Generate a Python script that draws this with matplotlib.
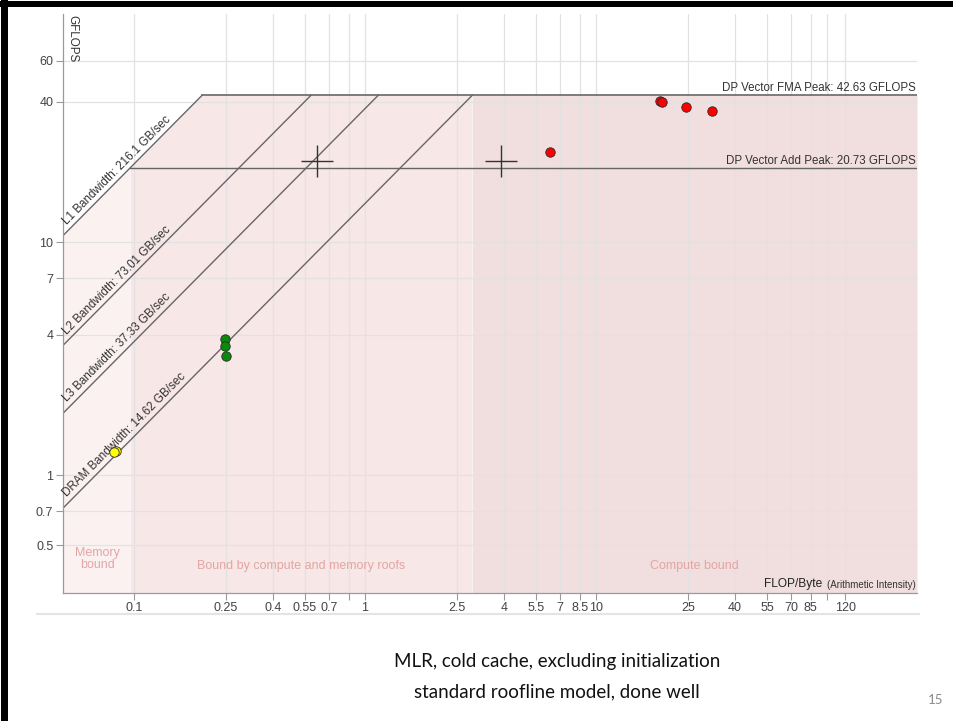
import numpy as np
import matplotlib
matplotlib.use("Agg")
import matplotlib.pyplot as plt
from matplotlib.lines import Line2D
from matplotlib.patches import Rectangle

# ---------------- data ----------------
bw_names = ["L1", "L2", "L3", "DRAM"]
bw_values = [216.1, 73.01, 37.33, 14.62]          # GB/sec
fma_peak = 42.63
add_peak = 20.73

red_x = [18.9, 19.3, 24.5, 31.8, 6.3]
red_y = [40.3, 39.9, 37.9, 36.5, 24.3]
green_x = [0.248, 0.247, 0.250]
green_y = [3.83, 3.58, 3.24]
yellow_x = [0.0835, 0.0822]
yellow_y = [1.27, 1.25]
cross_x = [0.62, 3.88]
cross_y = [22.3, 22.3]

xtick_vals = [0.1, 0.25, 0.4, 0.55, 0.7, 1, 2.5, 4, 5.5, 7, 8.5, 10,
              25, 40, 55, 70, 85, 120]
xtick_labels = ["0.1", "0.25", "0.4", "0.55", "0.7", "1", "2.5", "4", "5.5",
                "7", "8.5", "10", "25", "40", "55", "70", "85", "120"]
xtick_extra = [0.85, 100]
ytick_vals = [0.5, 0.7, 1, 4, 7, 10, 40, 60]
ytick_labels = ["0.5", "0.7", "1", "4", "7", "10", "40", "60"]

XMIN, XMAX = 0.0493, 245.6
YMIN, YMAX = 0.3116, 95.2

# ---------------- figure ----------------
W, H = 954, 721
fig = plt.figure(figsize=(W / 100, H / 100), dpi=100)
fig.patch.set_facecolor("white")
plt.rcParams["font.family"] = ["Liberation Sans", "DejaVu Sans"]
L, R, T, B = 63, 917, 14, 593
ax = fig.add_axes([L / W, 1 - B / H, (R - L) / W, (B - T) / H])
ax.set_xscale("log")
ax.set_yscale("log")
ax.set_xlim(XMIN, XMAX)
ax.set_ylim(YMIN, YMAX)
ax.set_facecolor("white")

# region fills under roofline
x_mem = add_peak / bw_values[0]
x_cmp = fma_peak / bw_values[-1]
xs = np.logspace(np.log10(XMIN), np.log10(XMAX), 2000)
roof = np.minimum(bw_values[0] * xs, fma_peak)
regions = [(XMIN, x_mem, "#fcf1f1"), (x_mem, x_cmp, "#f7e7e7"),
           (x_cmp, XMAX, "#f1dede")]
for a, b, c in regions:
    m = (xs >= a) & (xs <= b)
    ax.fill_between(xs[m], YMIN, roof[m], color=c, lw=0, zorder=0.1)

# grid
gcol = "#e2e2e2"
for v in xtick_vals + xtick_extra:
    ax.axvline(v, color=gcol, lw=0.9, zorder=0.3)
for v in ytick_vals:
    ax.axhline(v, color=gcol, lw=0.9, zorder=0.3)

# roof lines
lcol = "#666666"
for bw in bw_values:
    xe = fma_peak / bw
    ax.plot([XMIN, xe], [bw * XMIN, fma_peak], color=lcol, lw=1.0, zorder=2)
ax.plot([fma_peak / bw_values[0], XMAX], [fma_peak, fma_peak], color=lcol, lw=1.2, zorder=2)
ax.plot([x_mem, XMAX], [add_peak, add_peak], color=lcol, lw=1.0, zorder=2)

# angle of unit slope in display space
p1 = ax.transData.transform((1, 1))
p2 = ax.transData.transform((10, 10))
ang = np.degrees(np.arctan2(p2[1] - p1[1], p2[0] - p1[0]))

tcol = "#333333"
for name, bw in zip(bw_names, bw_values):
    x0 = 0.0522
    ax.text(x0, bw * x0 * 1.03, f"{name} Bandwidth: {bw} GB/sec", rotation=ang,
            rotation_mode="anchor", ha="left", va="bottom", fontsize=8.4,
            color=tcol, zorder=3)

ax.text(0.985 * XMAX, fma_peak * 1.008, f"DP Vector FMA Peak: {fma_peak} GFLOPS",
        ha="right", va="bottom", fontsize=8.3, color=tcol, zorder=3)
ax.text(0.985 * XMAX, add_peak * 1.008, f"DP Vector Add Peak: {add_peak} GFLOPS",
        ha="right", va="bottom", fontsize=8.3, color=tcol, zorder=3)

# crosses
ax.plot(cross_x, cross_y, ls="none", marker="+", ms=23, mew=1.0, color="#333333", zorder=4)

# points
kw = dict(ls="none", marker="o", ms=6.8, mec="#2a2a2a", mew=0.6, zorder=5)
ax.plot(red_x, red_y, mfc="#ff0000", **kw)
ax.plot(green_x, green_y, mfc="#0a8a0a", **kw)
ax.plot(yellow_x, yellow_y, mfc="#ffff00", **kw)

# region labels
rcol = "#e3a5a5"
ax.text(0.0696, 0.436, "Memory\nbound", ha="center", va="center", fontsize=9,
        color=rcol, linespacing=1.0, zorder=3)
ax.text(0.528, 0.407, "Bound by compute and memory roofs",
        ha="center", va="center", fontsize=9, color=rcol, zorder=3)
ax.text(26.8, 0.407, "Compute bound", ha="center", va="center", fontsize=9,
        color=rcol, zorder=3)

# axis label texts
ax.text(0.985 * XMAX, 0.322, "(Arithmetic Intensity)", ha="right", va="bottom",
        fontsize=7, color=tcol, zorder=3)
ax.annotate("FLOP/Byte", xy=(0.985 * XMAX, 0.322), xycoords="data",
            xytext=(-67, 0), textcoords="offset points", ha="right", va="bottom",
            fontsize=8.6, color="#222222", zorder=3)
fig.text(72 / W, 1 - 15 / H, "GFLOPS", rotation=270, ha="center", va="top",
         fontsize=8.4, color=tcol)

# axes styling
for s in ["top", "right"]:
    ax.spines[s].set_visible(False)
for s in ["left", "bottom"]:
    ax.spines[s].set_color("#9a9a9a")
    ax.spines[s].set_linewidth(0.9)
ax.set_xticks(xtick_vals + xtick_extra)
ax.set_xticklabels(xtick_labels + ["", ""])
ax.set_yticks(ytick_vals)
ax.set_yticklabels(ytick_labels)
ax.minorticks_off()
ax.tick_params(axis="both", length=5, width=0.8, color="#9a9a9a",
               labelsize=9, labelcolor="#444444")
ax.tick_params(axis="x", pad=1.2)
ax.tick_params(axis="y", pad=2)

# bottom light rule under tick labels
fig.add_artist(Line2D([37 / W, 919 / W], [1 - 614 / H, 1 - 614 / H],
                      color="#e4e4e4", lw=1.5))

# slide frame (black bars left and top)
fig.add_artist(Rectangle((1 / W, 0), 7 / W, 1, transform=fig.transFigure,
                         color="black", lw=0))
fig.add_artist(Rectangle((0, 1 - 7 / H), 1, 6 / H, transform=fig.transFigure,
                         color="black", lw=0))

# slide titles
sfont = ["Lato", "DejaVu Sans"]
fig.text(557 / W, 1 - 662 / H, "MLR, cold cache, excluding initialization",
         ha="center", va="center", fontsize=13.5, family=sfont, color="#111111")
fig.text(557 / W, 1 - 692 / H, "standard roofline model, done well",
         ha="center", va="center", fontsize=13.5, family=sfont, color="#111111")
fig.text(936 / W, 1 - 700 / H, "15", ha="center", va="center", fontsize=9.5,
         family=sfont, color="#8a8a8a")

fig.savefig("out.png", dpi=100)
